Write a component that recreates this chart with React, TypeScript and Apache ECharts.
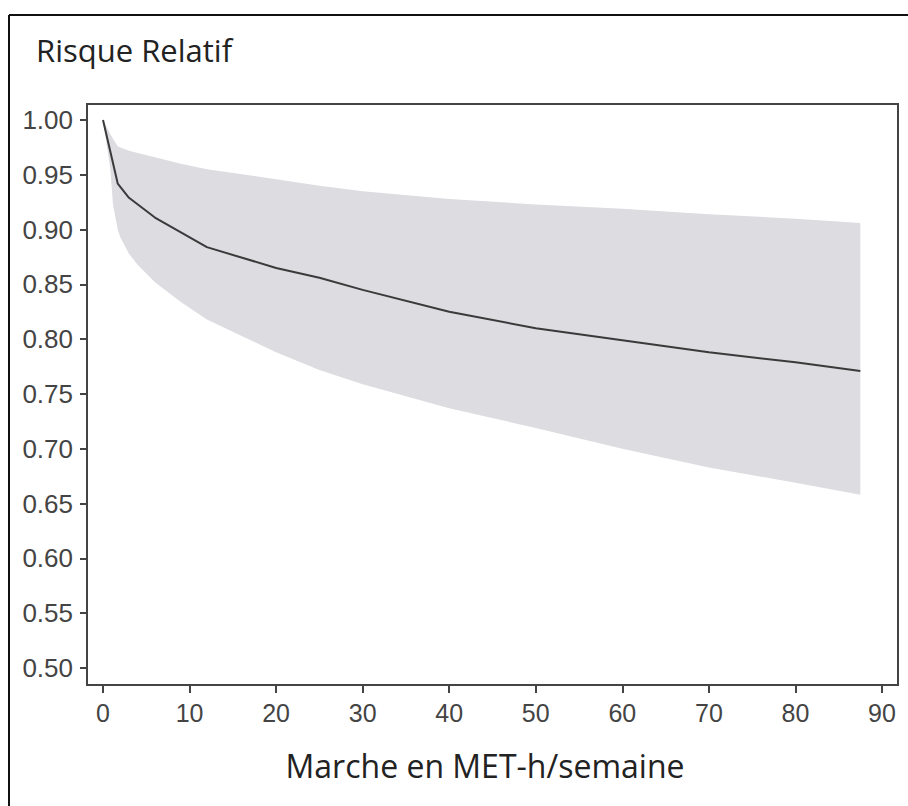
import React, { useEffect, useRef } from "react";
import * as echarts from "echarts";

const xValues = [0, 1.7, 3, 6, 12, 20, 25, 30, 40, 50, 60, 70, 80, 87.5];
const rrValues = [1.0, 0.942, 0.929, 0.911, 0.884, 0.865, 0.856, 0.845, 0.825, 0.81, 0.799, 0.788, 0.779, 0.771];
const bandX = [0, 0.85, 1.15, 1.7, 2, 3, 4, 6, 9, 12, 20, 25, 30, 40, 50, 60, 70, 80, 87.5];
const upperValues = [1.0, 0.987, 0.983, 0.976, 0.975, 0.972, 0.97, 0.966, 0.96, 0.955, 0.946, 0.94, 0.935, 0.928, 0.923, 0.919, 0.914, 0.91, 0.906];
const lowerValues = [1.0, 0.955, 0.923, 0.9, 0.893, 0.878, 0.868, 0.852, 0.834, 0.818, 0.788, 0.772, 0.759, 0.737, 0.719, 0.7, 0.683, 0.669, 0.658];
const xTicks = [0, 10, 20, 30, 40, 50, 60, 70, 80, 90];
const yTicks = [0.5, 0.55, 0.6, 0.65, 0.7, 0.75, 0.8, 0.85, 0.9, 0.95, 1.0];
const yTitle = "Risque Relatif";
const xTitle = "Marche en MET-h/semaine";

export default function App() {
  const ref = useRef<HTMLDivElement>(null);
  useEffect(() => {
    if (!ref.current) return;
    const chart = echarts.init(ref.current, undefined, { renderer: "svg" });
    const axisColor = "#444";
    const labelFont = "'Liberation Sans', Arial, sans-serif";
    chart.setOption({
      animation: false,
      backgroundColor: "#ffffff",
      grid: {
        left: 87,
        right: 10,
        top: 104,
        bottom: 121,
        show: true,
        borderColor: axisColor,
        borderWidth: 2,
        backgroundColor: "transparent",
        containLabel: false,
        outerBoundsMode: "none",
      },
      xAxis: {
        type: "value",
        min: -1.85,
        max: 91.85,
        axisLine: { show: false, onZero: false },
        splitLine: { show: false },
        axisTick: {
          show: true,
          length: 8,
          customValues: xTicks,
          lineStyle: { color: axisColor, width: 2 },
        },
        axisLabel: {
          customValues: xTicks,
          margin: 15,
          color: "#444",
          fontSize: 25,
          fontFamily: labelFont,
          formatter: (v: number) => String(v),
        },
      },
      yAxis: {
        type: "value",
        min: 0.4845,
        max: 1.0146,
        axisLine: { show: false, onZero: false },
        splitLine: { show: false },
        axisTick: {
          show: true,
          length: 7,
          customValues: yTicks,
          lineStyle: { color: axisColor, width: 2 },
        },
        axisLabel: {
          customValues: yTicks,
          margin: 14,
          color: "#444",
          fontSize: 26,
          fontFamily: labelFont,
          formatter: (v: number) => v.toFixed(2),
        },
      },
      series: [
        {
          name: "band",
          type: "custom",
          silent: true,
          data: [0],
          renderItem: (_params: any, api: any) => {
            const upperPts = bandX.map((x, i) => api.coord([x, upperValues[i]]));
            const lowerPts = bandX
              .map((x, i) => api.coord([x, lowerValues[i]]))
              .reverse();
            return {
              type: "polygon",
              shape: { points: upperPts.concat(lowerPts) },
              style: { fill: "#dcdce1", stroke: "none" },
            };
          },
        },
        {
          name: "rr",
          type: "line",
          symbol: "none",
          lineStyle: { color: "#3a3a3a", width: 2 },
          data: xValues.map((x, i) => [x, rrValues[i]]),
        },
      ],
      graphic: [
        {
          type: "line",
          shape: { x1: 9, y1: 15, x2: 908, y2: 15 },
          style: { stroke: "#111", lineWidth: 2 },
        },
        {
          type: "line",
          shape: { x1: 9, y1: 15, x2: 9, y2: 806 },
          style: { stroke: "#111", lineWidth: 2 },
        },
        {
          type: "text",
          x: 36,
          y: 50,
          style: {
            text: yTitle,
            fill: "#222",
            fontSize: 31,
            fontFamily: "'Open Sans', sans-serif",
            verticalAlign: "middle",
            align: "left",
          },
        },
        {
          type: "text",
          x: 485,
          y: 765,
          style: {
            text: xTitle,
            fill: "#222",
            fontSize: 32,
            fontFamily: "'Open Sans', sans-serif",
            verticalAlign: "middle",
            align: "center",
          },
        },
      ],
    });
    return () => chart.dispose();
  }, []);
  return (
    <div
      ref={ref}
      style={{ position: "absolute", left: 0, top: 0, width: 908, height: 806 }}
    />
  );
}
